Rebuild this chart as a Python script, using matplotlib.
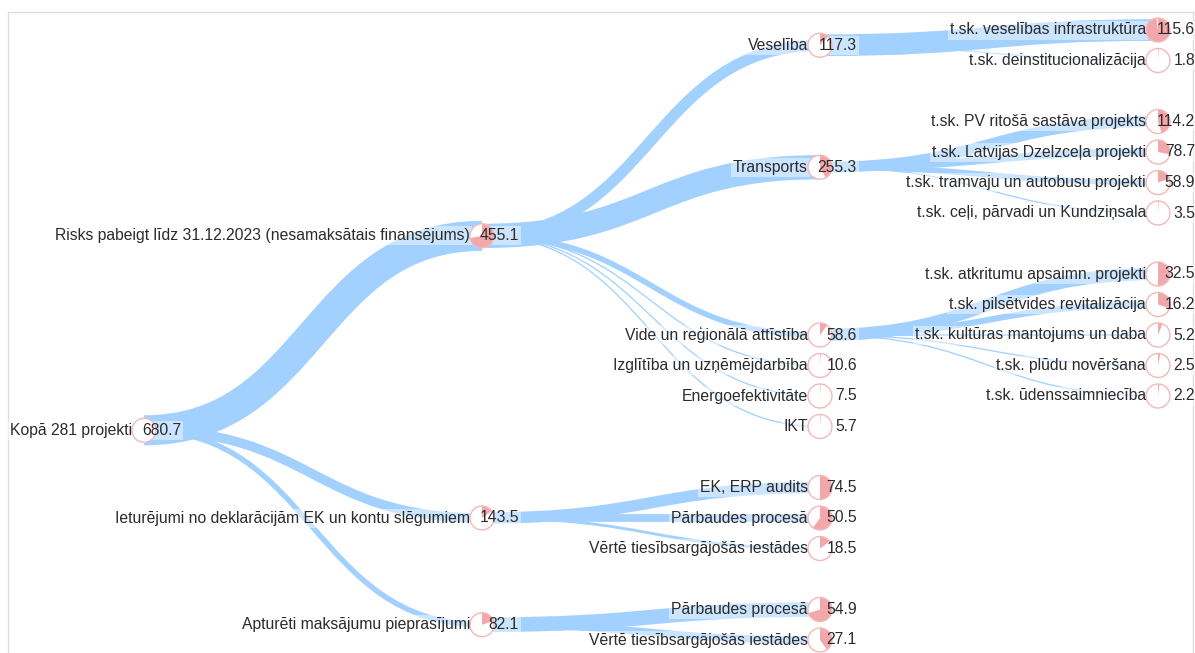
import matplotlib.pyplot as plt
from matplotlib.patches import Circle, Wedge, PathPatch, Rectangle
from matplotlib.path import Path

plt.rcParams['font.family'] = ['Liberation Sans', 'DejaVu Sans']

# tree nodes in drawing order, parent index -1 = root
labels = [
    'Kopā 281 projekti',
    'Risks pabeigt līdz 31.12.2023 (nesamaksātais finansējums)',
    'Veselība',
    't.sk. veselības infrastruktūra',
    't.sk. deinstitucionalizācija',
    'Transports',
    't.sk. PV ritošā sastāva projekts',
    't.sk. Latvijas Dzelzceļa projekti',
    't.sk. tramvaju un autobusu projekti',
    't.sk. ceļi, pārvadi un Kundziņsala',
    'Vide un reģionālā attīstība',
    't.sk. atkritumu apsaimn. projekti',
    't.sk. pilsētvides revitalizācija',
    't.sk. kultūras mantojums un daba',
    't.sk. plūdu novēršana',
    't.sk. ūdenssaimniecība',
    'Izglītība un uzņēmējdarbība',
    'Energoefektivitāte',
    'IKT',
    'Ieturējumi no deklarācijām EK un kontu slēgumiem',
    'EK, ERP audits',
    'Pārbaudes procesā',
    'Vērtē tiesībsargājošās iestādes',
    'Apturēti maksājumu pieprasījumi',
    'Pārbaudes procesā',
    'Vērtē tiesībsargājošās iestādes',
]
values = [680.7, 455.1, 117.3, 115.6, 1.8, 255.3, 114.2, 78.7, 58.9, 3.5,
          58.6, 32.5, 16.2, 5.2, 2.5, 2.2, 10.6, 7.5, 5.7,
          143.5, 74.5, 50.5, 18.5, 82.1, 54.9, 27.1]
parents = [-1, 0, 1, 2, 2, 1, 5, 5, 5, 5,
           1, 10, 10, 10, 10, 10, 1, 1, 1,
           0, 19, 19, 19, 0, 23, 23]
# filled part of each node's pie
shares = [0.0, 0.72, 0.12, 0.98, 0.01, 0.42, 0.45, 0.28, 0.2, 0.01,
          0.1, 0.5, 0.3, 0.06, 0.03, 0.02, 0.01, 0.01, 0.01,
          0.15, 0.5, 0.6, 0.15, 0.2, 0.7, 0.4]

W, H = 1195, 653
ROW0, ROW_STEP = 30, 30.5
COL0, COL_STEP = 144, 338
R = 12
VAL_DX = 37
FS = 11.3
BAND = '#a3d1ff'
PINK = '#f2a7aa'
RING = '#f3b8ba'
TEXT = '#2b2b2b'

n = len(labels)
children = [[] for _ in range(n)]
depth = [0] * n
for i, p in enumerate(parents):
    if p >= 0:
        children[p].append(i)
        depth[i] = depth[p] + 1

# tidy layout: leaves take rows, parents sit in the middle of their children
rows = [0.0] * n
next_free = {}


def place(i):
    d = depth[i]
    kids = children[i]
    if kids:
        if d + 1 in next_free:
            next_free[d + 1] += 1
        for k in kids:
            place(k)
        rows[i] = (rows[kids[0]] + rows[kids[-1]]) / 2
    else:
        rows[i] = next_free.get(d, 0)
    next_free[d] = int(rows[i]) + 1


place(0)
xs = [COL0 + COL_STEP * d for d in depth]
ys = [ROW0 + ROW_STEP * r for r in rows]

fig = plt.figure(figsize=(W / 100, H / 100), dpi=100)
ax = fig.add_axes([0, 0, 1, 1])
ax.set_xlim(0, W)
ax.set_ylim(H, 0)
ax.axis('off')

texts = []
for i in range(n):
    texts.append(ax.text(xs[i] - R, ys[i], labels[i], ha='right', va='center',
                         fontsize=FS, color=TEXT, zorder=4))
    texts.append(ax.text(xs[i] + VAL_DX, ys[i], f'{values[i]:.1f}', ha='right',
                         va='center', fontsize=FS, color=TEXT, zorder=4))

# links, centre to centre
for p in range(n):
    kids = children[p]
    if not kids:
        continue
    bundle = min(max(0.095 * values[p], 22), 45)
    for k in kids:
        w = max(bundle * values[k] / values[p], 1.3)
        xm = (xs[p] + xs[k]) / 2
        verts = [(xs[p], ys[p]), (xm, ys[p]), (xm, ys[k]), (xs[k], ys[k])]
        codes = [Path.MOVETO, Path.CURVE4, Path.CURVE4, Path.CURVE4]
        ax.add_patch(PathPatch(Path(verts, codes), fc='none', ec=BAND,
                               lw=w * 0.72, capstyle='butt', zorder=1))

# pale halo behind every text, under the node circles
fig.canvas.draw()
renderer = fig.canvas.get_renderer()
inv = ax.transData.inverted()
for t in texts:
    bb = t.get_window_extent(renderer)
    (x0, y0), (x1, y1) = inv.transform([(bb.x0, bb.y0), (bb.x1, bb.y1)])
    ax.add_patch(Rectangle((x0 - 2, min(y0, y1) - 2), x1 - x0 + 4, abs(y1 - y0) + 4,
                           fc='white', ec='none', alpha=0.45, zorder=1.5))

# nodes
for i in range(n):
    ax.add_patch(Circle((xs[i], ys[i]), R, fc='white', ec='none', zorder=2))
    if shares[i] > 0:
        ax.add_patch(Wedge((xs[i], ys[i]), R, -90, -90 + 360 * shares[i],
                           fc=PINK, ec='none', zorder=2.5))
    ax.add_patch(Circle((xs[i], ys[i]), R, fc='none', ec=RING, lw=1, zorder=3))

ax.plot([8, 8, 1193, 1193], [H, 12, 12, H], color='#dddddd', lw=1, zorder=0)

fig.savefig('out.png', dpi=100)
